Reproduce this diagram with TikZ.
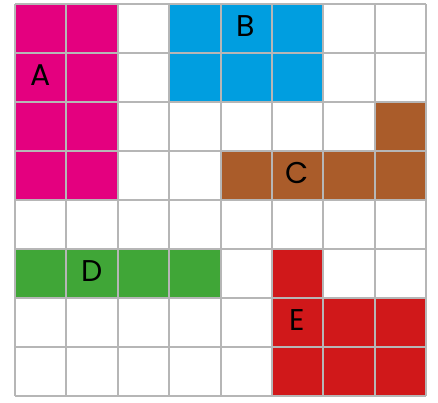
\documentclass[tikz,border=0pt]{standalone}
\usepackage{fontspec}
\setmainfont{Poppins}
\definecolor{cA}{RGB}{228,0,127}
\definecolor{cB}{RGB}{0,158,224}
\definecolor{cC}{RGB}{170,92,42}
\definecolor{cD}{RGB}{64,166,55}
\definecolor{cE}{RGB}{208,24,26}
\definecolor{gridgray}{RGB}{182,182,182}
\begin{document}
\begin{tikzpicture}[x=1pt,y=-1pt,
  lbl/.style={font=\fontsize{30}{30}\selectfont, text=black, inner sep=0pt, anchor=center},
  gridline/.style={gridgray, line width=2pt}]
\useasboundingbox (0,0) rectangle (438,402);
\begin{scope}[shift={(15,4)}, x=51.375pt, y=-49pt]
% A
\fill[cA] (0,0) rectangle (2,4);
% B
\fill[cB] (3,0) rectangle (6,2);
% C
\fill[cC] (7,2) rectangle (8,3);
\fill[cC] (4,3) rectangle (8,4);
% D
\fill[cD] (0,5) rectangle (4,6);
% E
\fill[cE] (5,5) rectangle (6,6);
\fill[cE] (5,6) rectangle (8,8);
% grid
\foreach \i in {0,...,8} {
  \draw[gridline] (\i,0) -- (\i,8);
  \draw[gridline] (0,\i) -- (8,\i);
}
\node[lbl] (la) at (0.5,1.45) {A};
\node[lbl] (lb) at (4.5,0.45) {B};
\node[lbl] (lc) at (5.5,3.45) {C};
\node[lbl] (ld) at (1.5,5.45) {D};
\node[lbl] (le) at (5.5,6.45) {E};
\end{scope}
\end{tikzpicture}
\end{document}
